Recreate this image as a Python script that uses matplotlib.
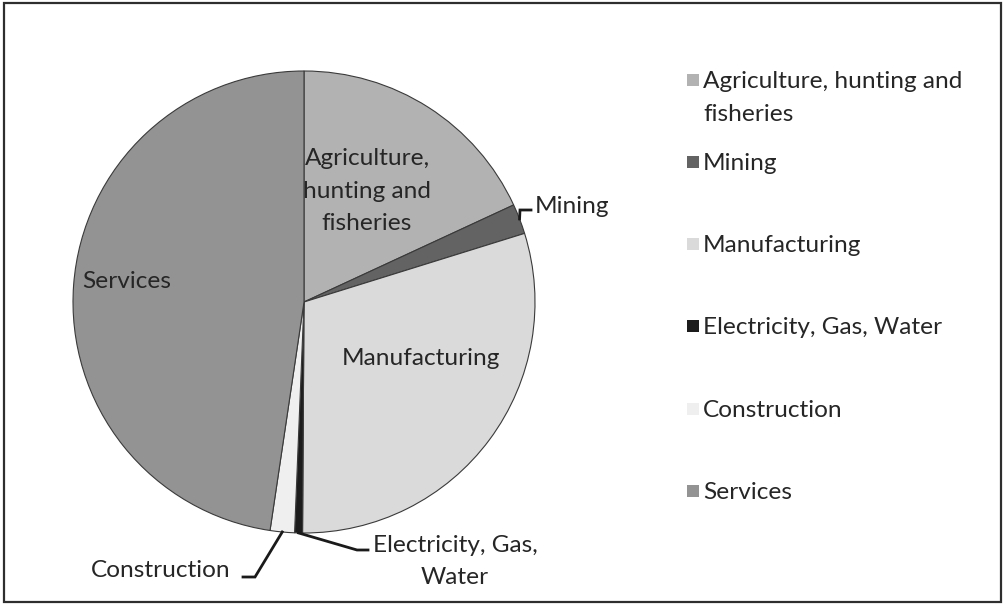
import numpy as np
import matplotlib
matplotlib.use("Agg")
import matplotlib.pyplot as plt
from matplotlib.lines import Line2D
from matplotlib.patches import Rectangle

# ---- data ----
categories = ["Agriculture, hunting and fisheries", "Mining", "Manufacturing",
              "Electricity, Gas, Water", "Construction", "Services"]
shares = [18.1, 2.1, 29.9, 0.55, 1.7, 47.65]
slice_labels = ["Agriculture,\nhunting and\nfisheries", "Mining", "Manufacturing",
                "Electricity, Gas,\nWater", "Construction", "Services"]
legend_labels = ["Agriculture, hunting and\nfisheries", "Mining", "Manufacturing",
                 "Electricity, Gas, Water", "Construction", "Services"]
colors = ["#b2b2b2", "#636363", "#dadada", "#1c1c1c", "#efefef", "#939393"]

W, H = 1005, 604
FONT = ["Lato", "DejaVu Sans"]
FS = 17.6
TXT = "#262626"

fig = plt.figure(figsize=(W / 100, H / 100), dpi=100)
fig.patch.set_facecolor("white")

def fx(x):
    return x / W

def fy(y):
    return 1 - y / H

# pie axes (pixel geometry)
cx, cy, R = 304, 302, 231
ax = fig.add_axes([fx(cx - R), fy(cy + R), 2 * R / W, 2 * R / H])
wedges, _ = ax.pie(shares, colors=colors, startangle=90, counterclock=False,
                   radius=1.0,
                   wedgeprops=dict(edgecolor="#3a3a3a", linewidth=0.8))
ax.set_xlim(-1, 1)
ax.set_ylim(-1, 1)
ax.set_aspect("equal")
ax.axis("off")

def edge_point(i):
    w = wedges[i]
    mid = np.deg2rad((w.theta1 + w.theta2) / 2)
    disp = ax.transData.transform((np.cos(mid), np.sin(mid)))
    return disp[0], H - disp[1]

def put_lines(text, x, y0, ha, step=32.5):
    for k, line in enumerate(text.split("\n")):
        fig.text(fx(x), fy(y0 + k * step), line, ha=ha, va="baseline",
                 fontsize=FS, family=FONT, color=TXT)

# slice labels
put_lines(slice_labels[0], 367, 165, "center")
put_lines(slice_labels[1], 535, 213, "left")
put_lines(slice_labels[2], 421, 365, "center")
put_lines(slice_labels[3], 455, 552, "center")
put_lines(slice_labels[4], 231, 577, "right")
put_lines(slice_labels[5], 127, 288, "center")

# leader lines
def leader(i, elbow, end):
    sx, sy = edge_point(i)
    xs = [fx(sx), fx(elbow[0]), fx(end[0])]
    ys = [fy(sy), fy(elbow[1]), fy(end[1])]
    fig.add_artist(Line2D(xs, ys, transform=fig.transFigure, color="#1a1a1a",
                          linewidth=2.0, solid_joinstyle="miter"))

leader(1, (520, 210), (531, 210))
leader(3, (357, 550), (368, 550))
leader(4, (255, 577), (243, 577))

# legend
leg_base = [88, 170, 252, 334, 417, 499]
for i, lab in enumerate(legend_labels):
    b = leg_base[i]
    fig.add_artist(Rectangle((fx(687), fy(b - 2)), 12 / W, 12 / H,
                             transform=fig.transFigure, facecolor=colors[i],
                             edgecolor="none"))
    put_lines(lab, 703, b, "left", step=33)

# border
fig.add_artist(Rectangle((fx(4), fy(602)), 997 / W, 599 / H,
                         transform=fig.transFigure, facecolor="none",
                         edgecolor="#2e2e2e", linewidth=1.6))

fig.savefig("out.png", dpi=100, facecolor="white")
